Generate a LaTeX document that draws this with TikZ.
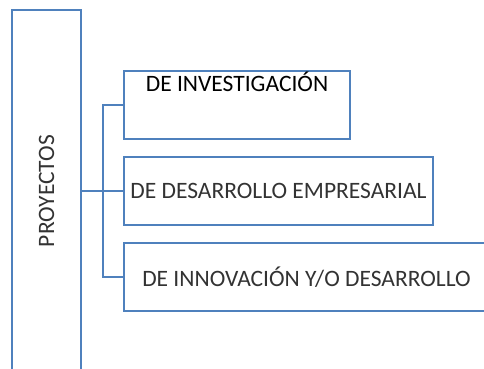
\documentclass[tikz,border=0pt]{standalone}
\usepackage{fontspec}
\setmainfont{Carlito}
\usetikzlibrary{positioning}
\definecolor{ofblue}{RGB}{79,129,189}
\begin{document}
\begin{tikzpicture}[x=1pt,y=-1pt,
    caja/.style={draw=ofblue, line width=2.5pt, rectangle, inner sep=0pt},
    rama/.style={draw=ofblue, line width=2.5pt},
    txt/.style={font=\fontsize{23.5}{26}\selectfont, text=black!80}]
    \clip (0,0) rectangle (484,369);
    \node[caja, minimum width=69pt, minimum height=362pt] (proy) at (46.5,191)
      {\rotatebox{90}{\fontsize{23.5}{26}\selectfont\color{black!80}PROYECTOS}};
    \node[caja, minimum width=226pt, minimum height=68pt,
      label={[anchor=base, yshift=-22pt, font=\fontsize{23.5}{26}\selectfont]north:DE INVESTIGACIÓN}] (inv) at (237,105) {};
    \node[caja, txt, minimum width=309pt, minimum height=68pt] (emp) at (278.5,191) {DE DESARROLLO EMPRESARIAL};
    \node[caja, txt, minimum width=365pt, minimum height=68pt] (inn) at (306.5,277) {DE INNOVACIÓN Y/O DESARROLLO};
    \coordinate (j) at (103,191);
    \draw[rama] (proy.east |- j) -- (j) -- (emp.west);
    \draw[rama] (inv.west) -- (inv.west -| j) -- (inn.west -| j) -- (inn.west);
 \end{tikzpicture}
\end{document}
